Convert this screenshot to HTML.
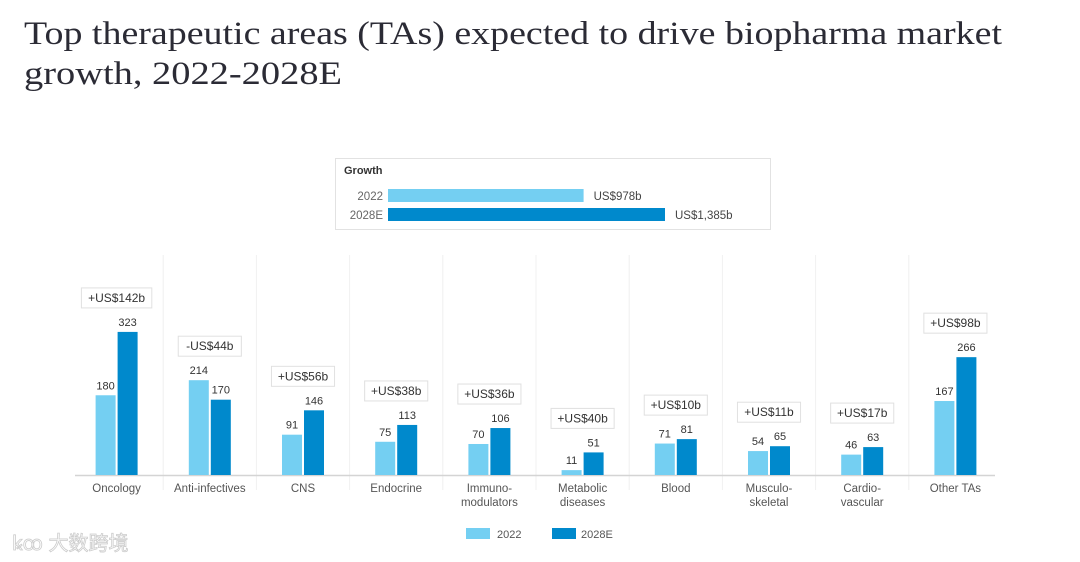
<!DOCTYPE html>
<html><head><meta charset="utf-8">
<style>
html,body{margin:0;padding:0;background:#fff;}
svg{display:block;}
</style></head>
<body>
<svg id="chart" width="1080" height="562" viewBox="0 0 1080 562" xmlns="http://www.w3.org/2000/svg">
  <text x="24" y="44" font-family="Liberation Serif, serif" font-size="33" fill="#2b2b35" textLength="978" lengthAdjust="spacingAndGlyphs">Top therapeutic areas (TAs) expected to drive biopharma market</text>
  <text x="24" y="84" font-family="Liberation Serif, serif" font-size="33" fill="#2b2b35" textLength="318" lengthAdjust="spacingAndGlyphs">growth, 2022-2028E</text>
  <g id="growth"></g>
  <g id="plot"></g>
  <g>
    <rect x="466" y="528" width="24" height="11" fill="#74cff2"/>
    <text x="497" y="538" font-family="Liberation Sans, sans-serif" font-size="11" fill="#555">2022</text>
    <rect x="552" y="528" width="24" height="11" fill="#0089cc"/>
    <text x="581" y="538" font-family="Liberation Sans, sans-serif" font-size="11" fill="#555">2028E</text>
  </g>
  <text x="12" y="550" font-family="Liberation Sans, 'Noto Sans CJK SC', sans-serif" font-size="20" fill="#fff" stroke="#ccc" stroke-width="0.8">ꝃꝏ 大数跨境</text>
</svg>
<script>
const categories = [["Oncology"],["Anti-infectives"],["CNS"],["Endocrine"],["Immuno-","modulators"],["Metabolic","diseases"],["Blood"],["Musculo-","skeletal"],["Cardio-","vascular"],["Other TAs"]];
const values2022 = [180,214,91,75,70,11,71,54,46,167];
const values2028 = [323,170,146,113,106,51,81,65,63,266];
const changeLabels = ["+US$142b","-US$44b","+US$56b","+US$38b","+US$36b","+US$40b","+US$10b","+US$11b","+US$17b","+US$98b"];
const growthYears = ["2022","2028E"];
const growthValues = [978,1385];
const growthLabels = ["US$978b","US$1,385b"];

const NS="http://www.w3.org/2000/svg";
function mk(tag,attrs,parent){const e=document.createElementNS(NS,tag);for(const k in attrs)e.setAttribute(k,attrs[k]);parent.appendChild(e);return e;}
const FONT="Liberation Sans, sans-serif";
const C1="#74cff2", C2="#0089cc";

// growth panel
const gp=document.getElementById('growth');
const box=mk('rect',{x:335.5,y:158.5,width:435,height:71,fill:'#fff',stroke:'#e2e2e2'},gp);


const gt=mk('text',{x:344,y:174,'font-family':FONT,'font-size':11,'font-weight':'bold',fill:'#333'},gp);gt.textContent="Growth";


const gx=v=>v*0.2;
growthValues.forEach((v,i)=>{
  const y=189+i*19;
  const r=mk('rect',{x:388,y:y,width:gx(v),height:13,fill:i?C2:C1},gp);
  
  
  const l=mk('text',{x:383,y:y+11,'text-anchor':'end','font-family':FONT,'font-size':11.5,fill:'#666'},gp);l.textContent=growthYears[i];
  
  
  const vl=mk('text',{x:388+gx(v)+10,y:y+11,'font-family':FONT,'font-size':11.5,fill:'#444'},gp);vl.textContent=growthLabels[i];
  
  
});

// main chart
const pl=document.getElementById('plot');
const base=475, k=0.443, x0=70, cw=93.2;
const yv=v=>base-v*k;
for(let i=1;i<categories.length;i++){
  const d=mk('line',{x1:x0+i*cw,x2:x0+i*cw,y1:255,y2:490,stroke:'#f0f0f0','stroke-width':1},pl);
  
  
}
const ax=mk('line',{x1:75,x2:995,y1:base+0.5,y2:base+0.5,stroke:'#d4d4d4','stroke-width':1.5},pl);


categories.forEach((cat,i)=>{
  const cx=x0+cw*i+cw/2;
  [[values2022[i],cx-21,C1,'2022'],[values2028[i],cx+1,C2,'2028e']].forEach(([v,bx,col,s])=>{
    const r=mk('rect',{x:bx,y:yv(v),width:20,height:v*k,fill:col},pl);
    
    
    const t=mk('text',{x:bx+10,y:yv(v)-6,'text-anchor':'middle','font-family':FONT,'font-size':11,fill:'#333'},pl);t.textContent=v;
    
    
  });
  cat.forEach((ln,j)=>{
    const t=mk('text',{x:cx,y:492+j*14,'text-anchor':'middle','font-family':FONT,'font-size':11.5,fill:'#555'},pl);t.textContent=ln;
    
    
  });
  const top=yv(Math.max(values2022[i],values2028[i]));
  const w=changeLabels[i].length*7.3+12;
  const bb=top-24;
  const b=mk('rect',{x:cx-w/2,y:bb-20,width:w,height:20,fill:'#fff',stroke:'#e0e0e0'},pl);
  
  
  const t=mk('text',{x:cx,y:bb-6,'text-anchor':'middle','font-family':FONT,'font-size':12,fill:'#333'},pl);t.textContent=changeLabels[i];
  
  
});
</script>
</body></html>
